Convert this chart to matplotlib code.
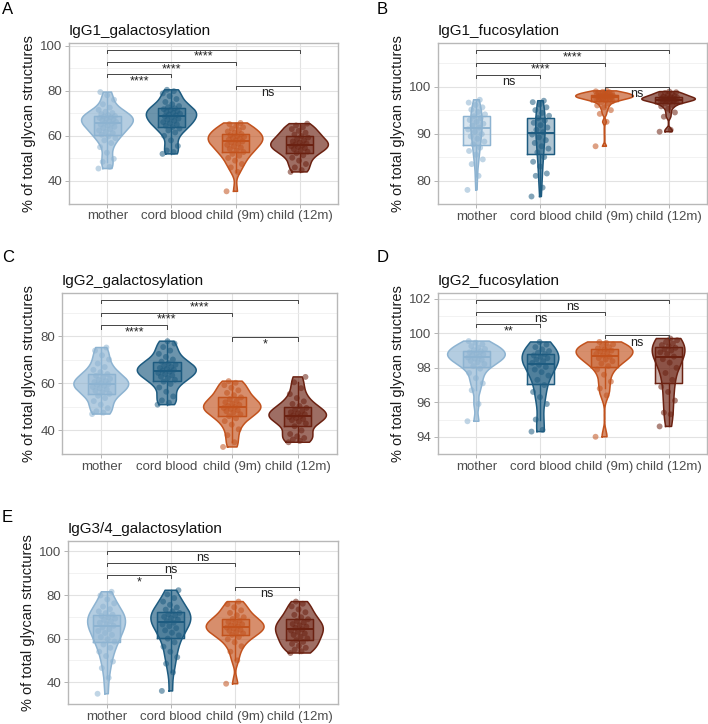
import numpy as np
import matplotlib.pyplot as plt

plt.rcParams['font.family'] = ['Liberation Sans', 'DejaVu Sans']

groups = ["mother", "cord blood", "child (9m)", "child (12m)"]
colors = ["#8db3d1", "#1d5b80", "#c2521d", "#6b2111"]

# A  IgG1_galactosylation
a_mother = [45.5, 46.2, 48.5, 49.8, 52.5, 55.0, 56.8, 58.0, 59.0, 59.8, 60.5, 61.2, 61.8,
            62.4, 63.0, 63.5, 64.0, 64.5, 65.0, 65.4, 65.8, 66.2, 66.6, 67.0, 67.3, 67.6,
            67.9, 68.2, 68.5, 68.8, 69.2, 69.6, 70.1, 70.7, 71.5, 72.5, 74.0, 76.0, 78.0,
            79.4]
a_cord = [52.0, 52.8, 53.5, 55.5, 58.0, 60.0, 61.5, 62.4, 63.2, 63.9, 64.5, 65.1, 65.6,
          66.1, 66.6, 67.1, 67.6, 68.1, 68.6, 69.0, 69.4, 69.8, 70.2, 70.6, 71.0, 71.4,
          71.8, 72.2, 72.7, 73.2, 74.0, 75.0, 76.3, 77.6, 78.8, 79.8, 80.4]
a_9m = [35.4, 44.0, 46.0, 47.5, 49.0, 50.2, 51.2, 52.0, 52.8, 53.5, 54.2, 54.8, 55.4,
        56.0, 56.5, 57.0, 57.5, 57.9, 58.3, 58.7, 59.1, 59.5, 59.9, 60.3, 60.8, 61.3,
        61.9, 62.5, 63.1, 63.8, 64.5, 65.2, 65.7]
a_12m = [44.0, 44.8, 46.0, 47.5, 49.0, 50.3, 51.4, 52.3, 53.0, 53.6, 54.1, 54.6, 55.0,
         55.4, 55.8, 56.2, 56.6, 57.0, 57.5, 58.0, 58.6, 59.2, 59.9, 60.6, 61.4, 62.2,
         63.0, 63.8, 64.6, 65.4]

# B  IgG1_fucosylation
b_mother = [78.0, 81.0, 83.5, 84.5, 85.5, 86.3, 87.0, 87.7, 88.3, 88.9, 89.4, 89.9, 90.4,
            90.9, 91.3, 91.7, 92.1, 92.5, 92.9, 93.3, 93.7, 94.1, 94.6, 95.1, 95.6, 96.1,
            96.6, 97.2]
b_cord = [76.6, 78.5, 81.0, 81.5, 83.0, 84.0, 85.0, 86.0, 86.8, 87.3, 88.0, 88.6, 89.2,
          89.8, 90.3, 90.8, 91.3, 91.8, 92.3, 92.8, 93.3, 93.8, 94.4, 95.0, 95.6, 96.2,
          96.7, 97.0]
b_9m = [87.3, 92.5, 94.2, 95.0, 95.6, 96.0, 96.4, 96.7, 96.9, 97.05, 97.2, 97.3, 97.4,
        97.5, 97.55, 97.6, 97.7, 97.75, 97.8, 97.85, 97.9, 98.0, 98.05, 98.1, 98.2, 98.25,
        98.3, 98.4, 98.45, 98.5, 98.6, 98.7, 98.8, 98.9, 99.0, 99.1]
b_12m = [90.4, 90.8, 93.6, 94.5, 95.3, 95.8, 96.1, 96.4, 96.6, 96.75, 96.9, 97.0, 97.1,
         97.15, 97.2, 97.25, 97.3, 97.4, 97.5, 97.55, 97.6, 97.7, 97.8, 97.9, 98.05, 98.2,
         98.35, 98.5, 98.65, 98.8, 98.95]

# C  IgG2_galactosylation
c_mother = [47.0, 47.6, 48.2, 49.5, 51.0, 52.5, 53.8, 54.8, 55.6, 56.3, 56.9, 57.5, 58.0,
            58.5, 59.0, 59.4, 59.8, 60.2, 60.6, 61.0, 61.5, 62.0, 62.6, 63.3, 64.0, 64.8,
            65.8, 67.0, 68.5, 70.2, 72.0, 74.0, 75.3]
c_cord = [51.0, 51.8, 52.8, 54.5, 56.5, 58.3, 59.8, 60.8, 61.6, 62.3, 62.9, 63.5, 64.0,
          64.5, 65.0, 65.4, 65.8, 66.2, 66.6, 67.0, 67.5, 68.0, 68.6, 69.3, 70.2, 71.3,
          72.6, 74.0, 75.5, 77.0, 78.0]
c_9m = [33.0, 35.0, 38.0, 40.5, 42.5, 44.0, 45.2, 46.1, 46.9, 47.6, 48.2, 48.7, 49.2,
        49.6, 50.0, 50.4, 50.9, 51.4, 52.0, 52.6, 53.3, 54.1, 55.0, 56.0, 57.1, 58.2,
        59.3, 60.3, 61.0]
c_12m = [35.0, 35.6, 36.2, 36.8, 37.5, 38.5, 40.0, 41.8, 43.0, 43.8, 44.4, 44.9, 45.3,
         45.7, 46.1, 46.5, 46.9, 47.3, 47.8, 48.3, 48.9, 49.6, 50.4, 51.3, 52.4, 53.8,
         55.5, 58.0, 60.5, 62.8]

# D  IgG2_fucosylation
d_mother = [94.9, 95.9, 96.7, 97.1, 97.4, 97.7, 97.95, 98.1, 98.22, 98.32, 98.4, 98.47,
            98.54, 98.6, 98.66, 98.72, 98.78, 98.84, 98.9, 98.96, 99.02, 99.09, 99.17,
            99.26, 99.36, 99.46, 99.55]
d_cord = [94.3, 94.4, 95.0, 95.9, 96.3, 96.6, 97.0, 97.3, 97.55, 97.75, 97.9, 98.05,
          98.17, 98.28, 98.38, 98.47, 98.56, 98.64, 98.72, 98.8, 98.88, 98.97, 99.07,
          99.2, 99.35, 99.5]
d_9m = [94.0, 96.4, 96.8, 97.2, 97.6, 97.9, 98.1, 98.25, 98.38, 98.48, 98.56, 98.64,
        98.72, 98.8, 98.87, 98.94, 99.0, 99.06, 99.12, 99.2, 99.28, 99.36, 99.45, 99.5]
d_12m = [94.6, 95.3, 95.4, 96.1, 96.6, 96.9, 97.3, 97.7, 98.0, 98.3, 98.5, 98.65, 98.8,
         98.9, 99.0, 99.08, 99.16, 99.24, 99.32, 99.4, 99.5, 99.6, 99.7]

# E  IgG3/4_galactosylation
e_mother = [34.7, 42.0, 46.5, 49.5, 52.0, 54.0, 55.8, 57.3, 58.6, 59.7, 60.7, 61.7, 62.6,
            63.5, 64.3, 65.1, 65.9, 66.6, 67.3, 68.0, 68.6, 69.2, 69.8, 70.4, 71.0, 71.7,
            72.5, 73.5, 74.7, 76.2, 78.0, 79.8, 81.5]
e_cord = [36.0, 44.5, 48.5, 51.5, 54.0, 56.3, 58.3, 60.0, 61.5, 62.7, 63.8, 64.8, 65.7,
          66.5, 67.3, 68.0, 68.7, 69.4, 70.0, 70.6, 71.2, 71.8, 72.5, 73.3, 74.3, 75.5,
          77.0, 78.6, 80.3, 82.2]
e_9m = [39.3, 50.0, 54.0, 56.5, 58.3, 59.7, 60.8, 61.7, 62.4, 63.0, 63.6, 64.1, 64.6,
        65.1, 65.6, 66.1, 66.6, 67.1, 67.7, 68.3, 69.0, 69.8, 70.7, 71.8, 73.0, 74.4,
        75.8, 77.0]
e_12m = [53.4, 54.2, 55.0, 55.8, 56.7, 57.6, 58.5, 59.3, 60.1, 60.9, 61.7, 62.4, 63.1,
         63.7, 64.3, 64.9, 65.5, 66.1, 66.7, 67.4, 68.1, 68.9, 69.8, 70.9, 72.1, 73.4,
         74.8, 76.0, 77.0]

# significance brackets: (group i, group j, height, label)
comparisons = [(1, 4), (1, 3), (1, 2), (3, 4)]
a_sig_y = [98.2, 92.7, 87.3, 82.2]
a_sig = ["****", "****", "****", "ns"]
b_sig_y = [107.8, 105.1, 102.5, 100.0]
b_sig = ["****", "****", "ns", "ns"]
c_sig_y = [95.6, 90.2, 84.7, 79.6]
c_sig = ["****", "****", "****", "*"]
d_sig_y = [101.96, 101.24, 100.55, 99.88]
d_sig = ["ns", "ns", "**", "ns"]
e_sig_y = [100.3, 94.8, 89.3, 83.9]
e_sig = ["ns", "ns", "*", "ns"]

W, H = 708, 724
panels = [
    ("A", "IgG1_galactosylation", [a_mother, a_cord, a_9m, a_12m], a_sig_y, a_sig,
     (69, 338, 43, 203.5), (32.5, 101.15), [40, 60, 80, 100], (2, 9)),
    ("B", "IgG1_fucosylation", [b_mother, b_cord, b_9m, b_12m], b_sig_y, b_sig,
     (438, 707, 43, 204), (75.04, 109.3), [80, 90, 100], (377, 9)),
    ("C", "IgG2_galactosylation", [c_mother, c_cord, c_9m, c_12m], c_sig_y, c_sig,
     (62, 337, 293, 454), (30.24, 98.5), [40, 60, 80], (2, 258)),
    ("D", "IgG2_fucosylation", [d_mother, d_cord, d_9m, d_12m], d_sig_y, d_sig,
     (438, 707, 293, 454), (93.6, 102.34), [94, 96, 98, 100, 102], (377, 258)),
    ("E", "IgG3/4_galactosylation", [e_mother, e_cord, e_9m, e_12m], e_sig_y, e_sig,
     (68, 338, 541, 704), (31.96, 104.8), [40, 60, 80, 100], (2, 517)),
]


def kde(vals):
    v = np.asarray(vals, dtype=float)
    n = len(v)
    sd = v.std(ddof=1)
    iqr = np.percentile(v, 75) - np.percentile(v, 25)
    bw = 0.9 * min(sd, iqr / 1.34) * n ** -0.2
    ys = np.linspace(v.min(), v.max(), 200)
    d = np.exp(-0.5 * ((ys[:, None] - v[None, :]) / bw) ** 2).sum(1) / (n * bw * np.sqrt(2 * np.pi))
    return ys, d


fig = plt.figure(figsize=(W / 100, H / 100), dpi=100)

for letter, title, data, sig_y, sig_lab, box, ylim, ticks, lpos in panels:
    l, r, t, b = box
    ax = fig.add_axes([l / W, 1 - b / H, (r - l) / W, (b - t) / H])
    ax.set_xlim(0.4, 4.6)
    ax.set_ylim(*ylim)
    pos = np.arange(1, 5)

    # violins, scaled by area within a panel
    dens = [kde(v) for v in data]
    dmax = max(d.max() for _, d in dens)
    for p, (ys, d), c in zip(pos, dens, colors):
        hw = 0.45 * d / dmax
        ax.fill_betweenx(ys, p - hw, p + hw, facecolor=c, alpha=0.65, edgecolor="none", zorder=2)
        ax.plot(np.r_[p - hw, (p + hw)[::-1], p - hw[0]], np.r_[ys, ys[::-1], ys[0]],
                color=c, lw=1.1, zorder=2.5)

    bp = ax.boxplot(data, positions=pos, widths=0.42, patch_artist=True, showfliers=False,
                    manage_ticks=False, zorder=3)
    for i, c in enumerate(colors):
        bp['boxes'][i].set(facecolor=c, alpha=0.35, edgecolor=c, lw=1.0)
        bp['medians'][i].set(color=c, lw=1.4)
        for k in (2 * i, 2 * i + 1):
            bp['whiskers'][k].set(color=c, lw=1.0)
            bp['caps'][k].set(visible=False)
    for i, c in enumerate(colors):
        q1, q3 = np.percentile(data[i], [25, 75])
        ax.plot([pos[i] - 0.21, pos[i] + 0.21, pos[i] + 0.21, pos[i] - 0.21, pos[i] - 0.21],
                [q1, q1, q3, q3, q1], color=c, lw=1.0, zorder=3.2)

    # jittered points
    for p, v, c in zip(pos, data, colors):
        n = len(v)
        off = ((np.arange(n) * 0.618034) % 1 - 0.5) * 0.28
        ax.scatter(p + off, v, s=18, color=c, alpha=0.55, edgecolors="none", zorder=4)

    # brackets
    rng = ylim[1] - ylim[0]
    px = rng / (b - t)
    tip = 3.3 * px
    for (i, j), y, lab in zip(comparisons, sig_y, sig_lab):
        ax.plot([i, i, j, j], [y - tip, y, y, y - tip], color="#444444", lw=0.7, zorder=5)
        ax.text((i + j) / 2, y - 1.2 * px, lab, ha="center", va="top", fontsize=9,
                color="#222222", zorder=6)

    ax.set_yticks(ticks)
    step = ticks[1] - ticks[0]
    ax.set_yticks(np.arange(ticks[0] - step / 2, ylim[1], step), minor=True)
    ax.set_xticks(pos)
    ax.set_xticklabels(groups)
    ax.tick_params(axis="both", which="major", labelsize=9.5, labelcolor="#4d4d4d",
                   color="#b3b3b3", length=3, width=0.7, pad=2)
    ax.tick_params(axis="y", which="minor", length=0)
    ax.grid(True, which="major", color="#e2e2e2", lw=0.8, zorder=0)
    ax.grid(True, which="minor", axis="y", color="#ededed", lw=0.5, zorder=0)
    ax.set_axisbelow(True)
    for s in ax.spines.values():
        s.set_color("#b8b8b8")
        s.set_linewidth(1.0)
    ax.set_ylabel("% of total glycan structures", fontsize=10.5, color="#1a1a1a", labelpad=3)
    ax.set_title(title, loc="left", fontsize=11, color="#111111", pad=6)
    fig.text(lpos[0] / W, 1 - lpos[1] / H, letter, fontsize=12, ha="left", va="center")

fig.savefig("out.png", dpi=100)
